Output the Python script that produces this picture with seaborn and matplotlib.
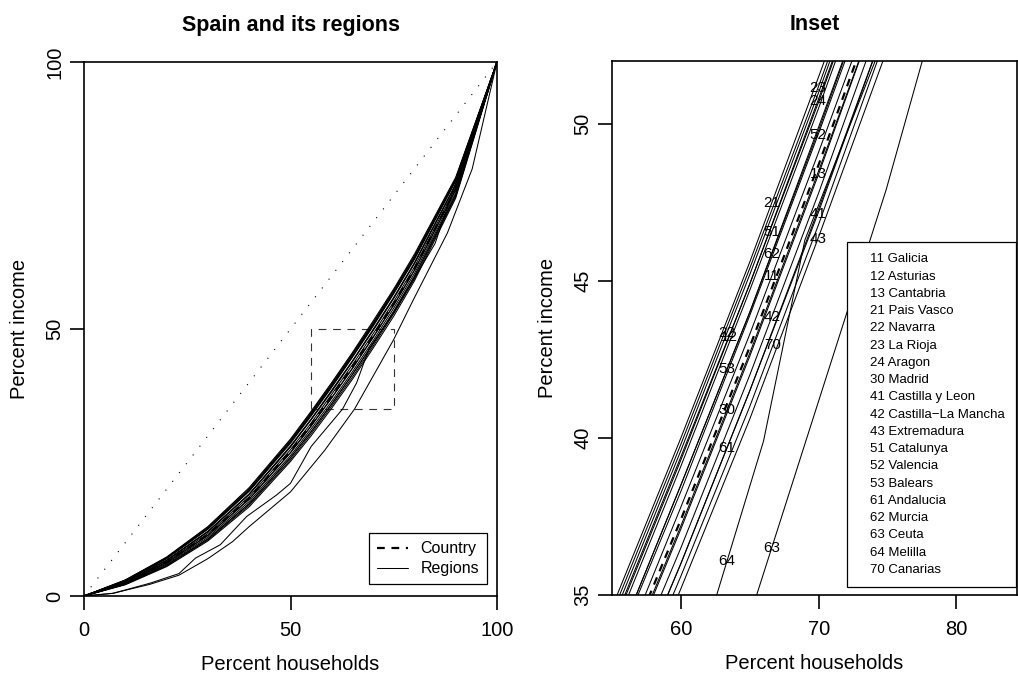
import numpy as np
import pandas as pd
import matplotlib
matplotlib.use("Agg")
import matplotlib.pyplot as plt
from matplotlib.lines import Line2D
from matplotlib.patches import Rectangle
import seaborn as sns

sns.set_style("white")
plt.rcParams['font.family'] = ['Liberation Sans', 'DejaVu Sans']
plt.rcParams['text.color'] = 'black'
plt.rcParams['axes.labelcolor'] = 'black'
plt.rcParams['xtick.color'] = 'black'
plt.rcParams['ytick.color'] = 'black'

# ---------------- data ----------------
pct_households = [0, 10, 20, 30, 40, 50, 55, 60, 65, 70, 75, 80, 90, 100]
country = [0, 2.5, 6.3, 11.5, 18.3, 27.1, 32.1, 37.4, 42.9, 48.7, 54.75, 61.25, 76.25, 100]

region_codes = ["11", "12", "13", "21", "22", "23", "24", "30", "41", "42",
                "43", "51", "52", "53", "61", "62", "63", "64", "70"]
region_names = ["Galicia", "Asturias", "Cantabria", "Pais Vasco", "Navarra",
                "La Rioja", "Aragon", "Madrid", "Castilla y Leon",
                "Castilla\u2212La Mancha", "Extremadura", "Catalunya", "Valencia",
                "Balears", "Andalucia", "Murcia", "Ceuta", "Melilla", "Canarias"]

galicia     = [0, 2.6, 6.4, 11.7, 18.6, 27.4, 32.4, 37.8, 43.3, 49.1, 55.1, 61.6, 76.5, 100]
asturias    = [0, 2.9, 7.0, 12.6, 19.7, 28.8, 33.9, 39.3, 44.9, 50.7, 56.8, 63.2, 77.8, 100]
cantabria   = [0, 2.4, 6.2, 11.3, 18.1, 26.8, 31.8, 37.1, 42.6, 48.4, 54.5, 61.0, 76.0, 100]
pais_vasco  = [0, 3.0, 7.3, 13.0, 20.3, 29.4, 34.6, 40.0, 45.6, 51.5, 57.5, 64.0, 78.4, 100]
navarra     = [0, 2.9, 7.1, 12.7, 19.9, 29.0, 34.2, 39.6, 45.2, 51.0, 57.1, 63.5, 78.1, 100]
la_rioja    = [0, 3.0, 7.2, 12.9, 20.1, 29.2, 34.4, 39.8, 45.4, 51.2, 57.3, 63.7, 78.2, 100]
aragon      = [0, 2.9, 7.1, 12.6, 19.8, 28.9, 34.0, 39.4, 44.9, 50.8, 56.8, 63.3, 77.9, 100]
madrid      = [0, 2.5, 6.2, 11.4, 18.2, 26.9, 31.9, 37.2, 42.7, 48.5, 54.5, 61.0, 76.1, 100]
castilla_leon = [0, 2.2, 5.8, 10.7, 17.3, 25.9, 30.8, 36.0, 41.5, 47.2, 53.3, 59.8, 75.1, 100]
castilla_lm = [0, 2.3, 6.0, 11.0, 17.7, 26.3, 31.3, 36.5, 42.0, 47.8, 53.9, 60.4, 75.5, 100]
extremadura = [0, 2.1, 5.5, 10.3, 16.7, 25.2, 30.0, 35.2, 40.6, 46.4, 52.4, 59.0, 74.5, 100]
catalunya   = [0, 2.8, 7.0, 12.5, 19.6, 28.6, 33.7, 39.1, 44.7, 50.5, 56.6, 63.0, 77.7, 100]
valencia    = [0, 2.7, 6.6, 12.0, 19.0, 27.9, 33.0, 38.3, 43.9, 49.7, 55.7, 62.2, 77.0, 100]
balears     = [0, 2.7, 6.7, 12.1, 19.1, 28.1, 33.1, 38.5, 44.0, 49.9, 55.9, 62.4, 77.1, 100]
andalucia   = [0, 2.2, 5.8, 10.7, 17.3, 25.9, 30.8, 36.0, 41.5, 47.3, 53.3, 59.9, 75.1, 100]
murcia      = [0, 2.7, 6.7, 12.1, 19.1, 28.0, 33.1, 38.5, 44.0, 49.8, 55.9, 62.3, 77.1, 100]
canarias    = [0, 2.2, 5.6, 10.5, 17.0, 25.5, 30.4, 35.6, 41.0, 46.8, 52.9, 59.4, 74.8, 100]

ceuta_x   = [0, 7, 16, 23, 30, 36, 40, 50, 58.3, 65.5, 74.9, 79.7, 88, 94, 100]
ceuta_y   = [0, 0.5, 2.2, 3.9, 7.0, 10.2, 13.0, 19.5, 27.3, 35.0, 47.9, 55.4, 68.0, 80.0, 100]
melilla_x = [0, 7, 16, 23, 27, 33, 39.4, 46.6, 50, 55, 62.6, 66, 69, 75, 85, 100]
melilla_y = [0, 0.5, 2.4, 4.2, 7.1, 9.6, 14.9, 18.9, 21.1, 28.0, 35.0, 39.9, 46.3, 53.0, 66.0, 100]

# x position (percent households) where each code label sits on its curve
label_x = [66.6, 63.5, 70.0, 66.6, 63.35, 69.95, 69.95, 63.35, 69.95, 66.6,
           69.95, 66.6, 69.95, 63.35, 63.35, 66.6, 66.6, 63.35, 66.7]

zoom_x = [55, 75]
zoom_y = [35, 50]

# ---------------- long table ----------------
region_y = [galicia, asturias, cantabria, pais_vasco, navarra, la_rioja, aragon,
            madrid, castilla_leon, castilla_lm, extremadura, catalunya, valencia,
            balears, andalucia, murcia, ceuta_y, melilla_y, canarias]
region_x = [pct_households] * 16 + [ceuta_x, melilla_x] + [pct_households]

rows = []
for code, xs, ys in zip(region_codes, region_x, region_y):
    for xv, yv in zip(xs, ys):
        rows.append((code, xv, yv))
df = pd.DataFrame(rows, columns=["code", "households", "income"])
df_country = pd.DataFrame({"households": pct_households, "income": country})

# ---------------- figure ----------------
W, H = 1018, 677
fig = plt.figure(figsize=(W / 100, H / 100), dpi=100)

def px_axes(l, t, r, b):
    return fig.add_axes([l / W, 1 - b / H, (r - l) / W, (b - t) / H])

ax1 = px_axes(84, 62, 497, 596)
ax2 = px_axes(612, 61, 1017, 595)

def draw_curves(ax):
    sns.lineplot(data=df, x="households", y="income", units="code", estimator=None,
                 sort=False, color="black", lw=0.75, ax=ax, legend=False)
    sns.lineplot(data=df_country, x="households", y="income", sort=False,
                 color="black", lw=1.6, ax=ax, legend=False)
    ax.get_lines()[-1].set_dashes([3.5, 3.0])

draw_curves(ax1)
draw_curves(ax2)

# left panel extras
ax1.plot([0, 100], [0, 100], color="black", lw=0.8, linestyle=(0, (1, 9)))
ax1.add_patch(Rectangle((zoom_x[0], zoom_y[0]), zoom_x[1] - zoom_x[0],
                        zoom_y[1] - zoom_y[0], fill=False, edgecolor="#333333",
                        lw=0.8, linestyle=(0, (7, 6))))
ax1.set_xlim(0, 100)
ax1.set_ylim(0, 100)
ax1.set_xticks([0, 50, 100])
ax1.set_yticks([0, 50, 100])

ax2.set_xlim(55, 84.4)
ax2.set_ylim(35, 52)
ax2.set_xticks([60, 70, 80])
ax2.set_yticks([35, 40, 45, 50])

# labels on inset curves
for code, xs, ys, lx in zip(region_codes, region_x, region_y, label_x):
    ly = np.interp(lx, xs, ys)
    ax2.text(lx, ly, code, ha="center", va="center", fontsize=11)

for ax in (ax1, ax2):
    for s in ax.spines.values():
        s.set_visible(True)
        s.set_color("black")
        s.set_linewidth(1.2)
    ax.tick_params(axis="both", direction="out", length=10, width=1.2,
                   labelsize=14.5, colors="black", bottom=True, left=True)
    ax.tick_params(axis="x", pad=8)
    ax.tick_params(axis="y", pad=4)
    for lab in ax.get_yticklabels():
        lab.set_rotation(90)
        lab.set_va("center")
    ax.set_xlabel("Percent households", fontsize=14.5, labelpad=11)
    ax.set_ylabel("Percent income", fontsize=14.5, labelpad=12)

ax1.set_title("Spain and its regions", fontsize=15.5, fontweight="bold", pad=22)
ax2.set_title("Inset", fontsize=15.5, fontweight="bold", pad=22)

# left legend
h_country = Line2D([], [], color="black", lw=1.6, dashes=[3.5, 3.0])
h_regions = Line2D([], [], color="black", lw=0.75)
leg1 = ax1.legend([h_country, h_regions], ["Country", "Regions"], loc="lower right",
                  bbox_to_anchor=(0.976, 0.022), fontsize=11.5, frameon=True,
                  fancybox=False, framealpha=1, edgecolor="black", handlelength=1.9,
                  handletextpad=0.8, borderpad=0.5, labelspacing=0.3, borderaxespad=0)
leg1.get_frame().set_linewidth(0.9)

# right legend (text only)
blank = [Line2D([], [], linestyle="none") for _ in region_codes]
labels = [f"{c} {n}" for c, n in zip(region_codes, region_names)]
leg2 = ax2.legend(blank, labels, loc="upper right",
                  bbox_to_anchor=(1016 / W, 1 - 242 / H), bbox_transform=fig.transFigure,
                  fontsize=9.5, frameon=True, fancybox=False, framealpha=1,
                  edgecolor="black", handlelength=0.6, handletextpad=0.32,
                  borderpad=0.85, labelspacing=0.38, borderaxespad=0)
leg2.get_frame().set_linewidth(0.9)

fig.savefig("out.png", dpi=100)
